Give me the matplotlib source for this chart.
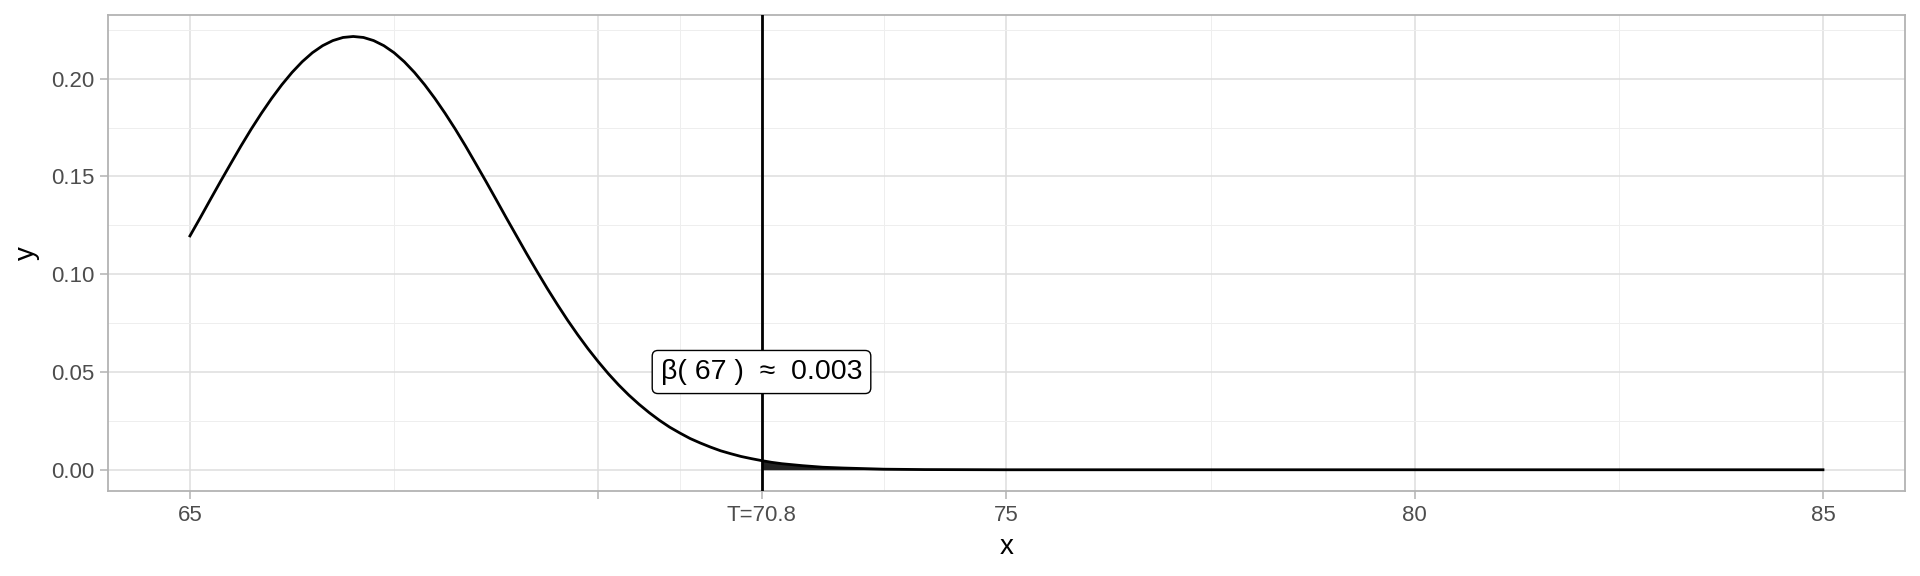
import matplotlib
matplotlib.use("Agg")
import numpy as np
from matplotlib import pyplot as plt

plt.rcParams['font.family'] = ['Liberation Sans', 'DejaVu Sans']

# density curve
x_vals = [65.0, 65.125, 65.25, 65.375, 65.5, 65.625, 65.75, 65.875,
          66.0, 66.125, 66.25, 66.375, 66.5, 66.625, 66.75, 66.875,
          67.0, 67.125, 67.25, 67.375, 67.5, 67.625, 67.75, 67.875,
          68.0, 68.125, 68.25, 68.375, 68.5, 68.625, 68.75, 68.875,
          69.0, 69.125, 69.25, 69.375, 69.5, 69.625, 69.75, 69.875,
          70.0, 70.125, 70.25, 70.375, 70.5, 70.625, 70.75, 70.875,
          71.0, 71.125, 71.25, 71.375, 71.5, 71.625, 71.75, 71.875,
          72.0, 72.125, 72.25, 72.375, 72.5, 72.625, 72.75, 72.875,
          73.0, 73.5, 74.0, 75.0, 80.0, 85.0]
y_vals = [0.1196, 0.1288, 0.1382, 0.1475, 0.1566, 0.1656, 0.1742, 0.1823,
          0.1899, 0.1969, 0.2032, 0.2087, 0.2133, 0.2169, 0.2195, 0.2211,
          0.2216, 0.2211, 0.2195, 0.2169, 0.2133, 0.2087, 0.2032, 0.1969,
          0.1899, 0.1823, 0.1742, 0.1656, 0.1566, 0.1475, 0.1382, 0.1288,
          0.1196, 0.1104, 0.1015, 0.0928, 0.0845, 0.0765, 0.0690, 0.0619,
          0.0553, 0.0491, 0.0434, 0.0382, 0.0335, 0.0292, 0.0253, 0.0218,
          0.0188, 0.0160, 0.0137, 0.0116, 0.0097, 0.0082, 0.0068, 0.0057,
          0.0047, 0.0038, 0.0031, 0.0026, 0.0021, 0.0017, 0.0013, 0.0011,
          0.0009, 0.0003, 0.0001, 0.0, 0.0, 0.0]

t_pos = 72.0
label_text = "β( 67 )  ≈  0.003"
label_y = 0.05

x_breaks = [65, 70, 72, 75, 80, 85]
x_labels = ["65", "", "T=70.8", "75", "80", "85"]
x_minor = [67.5, 71, 73.5, 77.5, 82.5]
y_breaks = [0.0, 0.05, 0.10, 0.15, 0.20]
y_labels = ["0.00", "0.05", "0.10", "0.15", "0.20"]
y_minor = [0.025, 0.075, 0.125, 0.175, 0.225]

x = np.array(x_vals)
y = np.array(y_vals)

fig = plt.figure(figsize=(19.2, 5.76), dpi=100)
ax = fig.add_axes([0.0564, 0.1481, 0.9356, 0.8259])

ax.set_xlim(64, 86)
ax.set_ylim(-0.0107, 0.2326)

ax.set_xticks(x_breaks)
ax.set_xticklabels(x_labels)
ax.set_xticks(x_minor, minor=True)
ax.set_yticks(y_breaks)
ax.set_yticklabels(y_labels)
ax.set_yticks(y_minor, minor=True)

ax.grid(which="major", color="#dedede", linewidth=1.1, zorder=0)
ax.grid(which="minor", color="#eeeeee", linewidth=0.7, zorder=0)
ax.set_axisbelow(True)

for s in ax.spines.values():
    s.set_color("#b3b3b3")
    s.set_linewidth(1.3)

ax.tick_params(which="major", length=6, width=1.1, color="#b3b3b3",
               labelsize=16, labelcolor="#4d4d4d", pad=4)
ax.tick_params(which="minor", length=0)

mask = x >= t_pos
ax.fill_between(x[mask], 0, y[mask], color="#222222", linewidth=0, zorder=2)
ax.plot(x, y, color="black", linewidth=2, zorder=3, solid_joinstyle="round")
ax.axvline(t_pos, color="black", linewidth=2, zorder=4)

ax.text(t_pos, label_y, label_text, fontsize=20.5, ha="center", va="center", zorder=5,
        bbox=dict(boxstyle="round,pad=0.3,rounding_size=0.2", fc="white", ec="black", lw=1))

ax.set_xlabel("x", fontsize=20, labelpad=6)
ax.set_ylabel("y", fontsize=20, labelpad=8)

fig.savefig("out.png", dpi=100)
